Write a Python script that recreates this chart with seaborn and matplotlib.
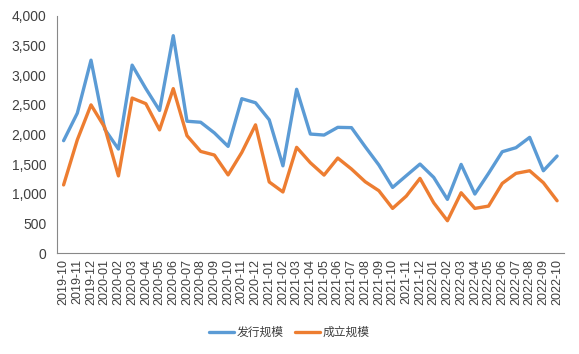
import pandas as pd
import seaborn as sns
import matplotlib.pyplot as plt
from matplotlib.ticker import FuncFormatter, MultipleLocator

# 月份
months = ["2019-10", "2019-11", "2019-12",
          "2020-01", "2020-02", "2020-03", "2020-04", "2020-05", "2020-06",
          "2020-07", "2020-08", "2020-09", "2020-10", "2020-11", "2020-12",
          "2021-01", "2021-02", "2021-03", "2021-04", "2021-05", "2021-06",
          "2021-07", "2021-08", "2021-09", "2021-10", "2021-11", "2021-12",
          "2022-01", "2022-02", "2022-03", "2022-04", "2022-05", "2022-06",
          "2022-07", "2022-08", "2022-09", "2022-10"]

# 发行规模
issue = [1896, 2360, 3254, 2090, 1755, 3170, 2774, 2406, 3667,
         2224, 2207, 2027, 1800, 2604, 2536, 2248, 1472, 2763,
         2008, 1991, 2121, 2116, 1795, 1485, 1108, 1306, 1502,
         1277, 906, 1496, 996, 1345, 1710, 1778, 1952, 1389, 1637]

# 成立规模
setup = [1150, 1910, 2500, 2120, 1302, 2615, 2520, 2078, 2774,
         1981, 1715, 1654, 1319, 1698, 2163, 1200, 1031, 1784,
         1524, 1316, 1603, 1418, 1204, 1052, 754, 962, 1260,
         849, 546, 1018, 754, 793, 1176, 1345, 1389, 1187, 883]

series_names = ["发行规模", "成立规模"]
colors = ["#5B9BD5", "#ED7D31"]

idx = list(range(len(months)))
df = pd.DataFrame({
    "idx": idx * 2,
    "value": issue + setup,
    "series": [series_names[0]] * len(months) + [series_names[1]] * len(months),
})

sns.set_style("white")
plt.rcParams["font.family"] = ["Liberation Sans", "Noto Sans CJK SC", "DejaVu Sans"]

fig = plt.figure(figsize=(5.79, 3.54), dpi=100)
ax = fig.add_axes([0.098, 0.285, 0.876, 0.67])

sns.lineplot(data=df, x="idx", y="value", hue="series", palette=colors,
             linewidth=2.4, sort=False, ax=ax)

ax.set_xlim(-0.5, len(months) - 0.5)
ax.set_ylim(0, 4000)
ax.yaxis.set_major_locator(MultipleLocator(500))
ax.yaxis.set_major_formatter(FuncFormatter(lambda v, p: f"{int(v):,}"))

ax.set_xticks(idx)
ax.set_xticklabels(months, rotation=90, fontsize=9, color="#404040")
ax.set_xticks([i - 0.5 for i in range(len(months) + 1)], minor=True)
ax.tick_params(axis="x", which="major", length=0, pad=4)
ax.tick_params(axis="x", which="minor", length=4, width=0.8, color="#888888", direction="out")
ax.tick_params(axis="y", length=4, width=0.8, color="#888888", direction="out",
               labelsize=10, labelcolor="#404040")

for s in ["top", "right"]:
    ax.spines[s].set_visible(False)
for s in ["left", "bottom"]:
    ax.spines[s].set_color("#888888")
    ax.spines[s].set_linewidth(0.8)

ax.set_xlabel("")
ax.set_ylabel("")

handles, labels = ax.get_legend_handles_labels()
ax.legend(handles, labels, loc="center", bbox_to_anchor=(0.5, 0.06),
          bbox_transform=fig.transFigure, ncol=2, frameon=False,
          prop={"family": ["Noto Sans CJK SC"], "size": 8.5},
          handlelength=2.1, columnspacing=1.0, handletextpad=0.2,
          labelcolor="#404040")

fig.savefig("out.png", dpi=100)
